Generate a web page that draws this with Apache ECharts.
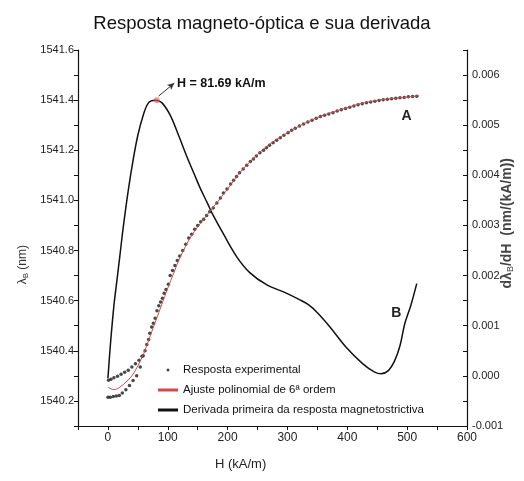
<!DOCTYPE html>
<html>
<head>
<meta charset="utf-8">
<script src="https://cdn.jsdelivr.net/npm/echarts@6/dist/echarts.min.js"></script>
<style>
  html, body { margin: 0; padding: 0; background: #fff; }
  #main { width: 524px; height: 481px; }
</style>
</head>
<body>
<div id="main"></div>
<script>
// pontos experimentais [H (kA/m), lambda_B (nm)]
const expLower = [[0,1540.215],[4,1540.215],[9,1540.218],[14,1540.22],[19,1540.222],[24,1540.232],[30,1540.245],[36,1540.262],[42,1540.282],[48,1540.30],[54,1540.335]];
const expUpper = [[1,1540.283],[5,1540.287],[10,1540.292],[16,1540.298],[22,1540.306],[28,1540.314],[34,1540.322],[40,1540.335],[46,1540.348],[52,1540.362],[57,1540.378]];
const expMain = [[59,1540.38],[62,1540.40],[65,1540.425],[68,1540.445],[70,1540.47],[73,1540.495],[76,1540.51],[79,1540.53],[82,1540.56],[85,1540.58],[88,1540.595],[91,1540.61],[94,1540.63],[97,1540.645],[101,1540.665],[104,1540.70],[108,1540.72],[112,1540.74],[116,1540.76],[120,1540.778],[125,1540.80],[130,1540.825],[135,1540.85],[140,1540.865],[145,1540.885],[150,1540.90],[155,1540.915],[160,1540.925],[165,1540.94],[170,1540.955],[176,1540.97],[182,1540.99],[188,1541.01],[193,1541.03],[199,1541.045],[205,1541.065],[210,1541.08],[215,1541.095],[220,1541.11],[226,1541.125],[232,1541.14],[238,1541.155],[243,1541.165],[248,1541.177],[254,1541.19],[260,1541.20],[265,1541.21],[270,1541.22],[276,1541.23],[282,1541.24],[288,1541.25],[294,1541.26],[301,1541.27],[307,1541.28],[313,1541.288],[320,1541.297],[327,1541.305],[334,1541.313],[341,1541.32],[348,1541.328],[355,1541.335],[362,1541.34],[369,1541.345],[376,1541.35],[383,1541.357],[390,1541.362],[397,1541.367],[404,1541.372],[411,1541.377],[418,1541.382],[425,1541.386],[432,1541.39],[439,1541.393],[446,1541.396],[453,1541.399],[460,1541.402],[467,1541.404],[474,1541.406],[481,1541.408],[488,1541.41],[495,1541.411],[502,1541.413],[509,1541.414],[516,1541.415]];

// ajuste polinomial de 6a ordem
const fitH = [0,10,20,30,40,50,60,70,80,90,100,110,120,140,160,180,200,220,240,260,280,300,320,340,360,380,400,420,440,460,480,500,520];
const fitL = [1540.255,1540.245,1540.255,1540.275,1540.30,1540.34,1540.39,1540.455,1540.52,1540.585,1540.65,1540.71,1540.77,1540.86,1540.925,1540.985,1541.045,1541.11,1541.16,1541.205,1541.24,1541.27,1541.297,1541.32,1541.34,1541.355,1541.37,1541.385,1541.395,1541.403,1541.408,1541.412,1541.418];

// derivada primeira d(lambda)/dH
const derH = [0,4,10,15,20,26,34,42,50,59,68,79,90,104,118,132,144,154,166,176,193,215,237,265,298,320,335,350,370,398,426,445,456,468,479,488,496,506,516];
const derV = [-0.00005,0.0006,0.0014,0.0019,0.0024,0.0030,0.0037,0.0043,0.0048,0.0052,0.00545,0.0055,0.00545,0.0052,0.0048,0.00437,0.00403,0.00375,0.00345,0.0032,0.00283,0.00238,0.00206,0.00182,0.00165,0.00152,0.00142,0.00126,0.00099,0.00057,0.00024,0.00008,0.00004,0.0001,0.0003,0.0006,0.00104,0.0014,0.00184];

const peakH = 81.69;
const peakV = 0.0055;

const sans = "'Liberation Sans', Arial, sans-serif";

const chart = echarts.init(document.getElementById('main'));

chart.setOption({
    animation: false,
    title: {
        text: 'Resposta magneto-óptica e sua derivada',
        left: 'center',
        top: 9,
        textStyle: {fontFamily: sans, fontSize: 18.5, fontWeight: 'normal', color: '#111'}
    },
    grid: {left: 78, right: 57, top: 50, bottom: 55},
    legend: {
        orient: 'vertical',
        left: 153,
        top: 359,
        itemWidth: 20,
        itemHeight: 3,
        itemGap: 8,
        textStyle: {fontFamily: sans, fontSize: 11.5, color: '#111'},
        data: [
            {name: 'Resposta experimental', icon: 'circle'},
            {name: 'Ajuste polinomial de 6ª ordem', icon: 'rect'},
            {name: 'Derivada primeira da resposta magnetostrictiva', icon: 'rect'}
        ]
    },
    xAxis: {
        type: 'value',
        min: -50,
        max: 600,
        interval: 50,
        axisLine: {onZero: false, lineStyle: {color: '#111', width: 1.2}},
        axisTick: {length: 4, lineStyle: {color: '#111'}},
        axisLabel: {
            fontFamily: sans, fontSize: 12, color: '#222', margin: 6,
            formatter: v => (v >= 0 && v % 100 === 0) ? String(v) : ''
        },
        splitLine: {show: false}
    },
    yAxis: [
        {
            type: 'value',
            min: 1540.1,
            max: 1541.6,
            interval: 0.1,
            axisLine: {show: true, onZero: false, lineStyle: {color: '#111', width: 1.2}},
            axisTick: {length: 4, lineStyle: {color: '#111'}},
            axisLabel: {
                fontFamily: sans, fontSize: 11, color: '#222', margin: 4,
                formatter: v => {
                    const k = Math.round(v * 10);
                    return k % 2 === 0 ? (k / 10).toFixed(1) : '';
                }
            },
            splitLine: {show: false}
        },
        {
            type: 'value',
            min: -0.001,
            max: 0.0065,
            interval: 0.0005,
            position: 'right',
            axisLine: {show: true, onZero: false, lineStyle: {color: '#111', width: 1.2}},
            axisTick: {inside: true, length: 4, lineStyle: {color: '#111'}},
            axisLabel: {
                fontFamily: sans, fontSize: 11, color: '#222', margin: 5,
                formatter: v => {
                    const k = Math.round(v * 2000);
                    return k % 2 === 0 ? (k / 2000).toFixed(3) : '';
                }
            },
            splitLine: {show: false}
        }
    ],
    graphic: [
        {
            type: 'text', left: 17, top: 245, rotation: Math.PI / 2,
            style: {
                text: 'λ{s|B} (nm)',
                rich: {s: {fontSize: 8, padding: [6, 0, 0, 0], fontFamily: sans}},
                font: "12px 'Liberation Sans', Arial", fill: '#333'
            }
        },
        {
            type: 'text', left: 500, top: 158, rotation: Math.PI / 2,
            style: {
                text: 'dλ{s|B}/dH  (nm/(kA/m))',
                rich: {s: {fontSize: 9, padding: [7, 0, 0, 0], fontFamily: sans}},
                font: "bold 14px 'Liberation Sans', Arial", fill: '#444'
            }
        },
        {
            type: 'text', left: 215, top: 458,
            style: {text: 'H (kA/m)', font: "13px 'Liberation Sans', Arial", fill: '#222'}
        }
    ],
    series: [
        {
            name: 'Resposta experimental',
            type: 'scatter',
            yAxisIndex: 0,
            symbolSize: 3.5,
            itemStyle: {color: '#1a1a1a'},
            data: expLower.concat(expUpper, expMain),
            z: 3
        },
        {
            name: 'Ajuste polinomial de 6ª ordem',
            type: 'line',
            yAxisIndex: 0,
            smooth: 0.35,
            symbol: 'none',
            lineStyle: {color: '#d24a4a', width: 1},
            itemStyle: {color: '#d24a4a'},
            data: fitH.map((h, i) => [h, fitL[i]]),
            markPoint: {
                symbol: 'circle', symbolSize: 0,
                label: {show: true, fontFamily: sans, fontWeight: 'bold', fontSize: 14, color: '#222'},
                data: [{coord: [499, 1541.336], value: 'A'}]
            },
            z: 4
        },
        {
            name: 'Derivada primeira da resposta magnetostrictiva',
            type: 'line',
            yAxisIndex: 1,
            smooth: 0.35,
            symbol: 'none',
            lineStyle: {color: '#111', width: 1.5},
            itemStyle: {color: '#111'},
            data: derH.map((h, i) => [h, derV[i]]),
            markPoint: {
                symbol: 'circle', symbolSize: 0,
                label: {show: true, fontFamily: sans, fontWeight: 'bold', fontSize: 14, color: '#222'},
                data: [
                    {coord: [482, 0.00125], value: 'B'},
                    {coord: [peakH, peakV], value: '', symbolSize: 6, itemStyle: {color: 'rgba(230,80,80,0.6)'}},
                    {
                        coord: [112, 0.00584], value: 'H = 81.69 kA/m', symbolSize: 0,
                        label: {position: 'right', distance: 2, fontSize: 12.5, color: '#111'}
                    }
                ]
            },
            markLine: {
                silent: true,
                symbol: ['none', 'arrow'],
                symbolSize: [5, 7],
                lineStyle: {color: '#333', width: 1, type: 'solid'},
                label: {show: false},
                data: [[{coord: [peakH + 3, peakV + 0.00008]}, {coord: [111, 0.00584]}]]
            },
            z: 2
        }
    ]
});
</script>
</body>
</html>
